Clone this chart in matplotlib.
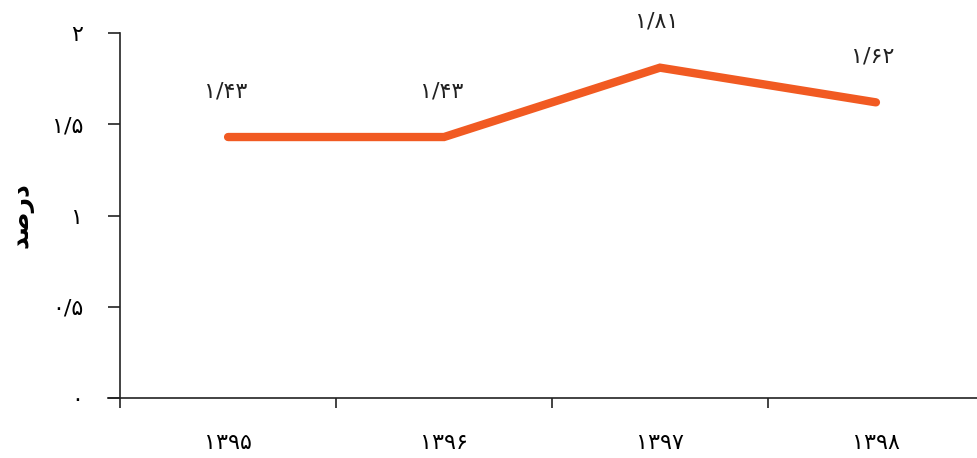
import matplotlib.pyplot as plt

fa = str.maketrans("0123456789.", "۰۱۲۳۴۵۶۷۸۹/")

years = ["1395", "1396", "1397", "1398"]
values = [1.43, 1.43, 1.81, 1.62]
yticks = [0, 0.5, 1, 1.5, 2]

color = "#f15a22"

fig = plt.figure(figsize=(9.77, 4.58), dpi=100)
ax = fig.add_axes([108 / 977, 60 / 458, 869 / 977, 365 / 458])

x = list(range(len(years)))
ax.plot(x, values, color=color, lw=6, solid_capstyle="round", solid_joinstyle="miter")

for xi, v in zip(x, values):
    ax.annotate(f"{v:.2f}".translate(fa), (xi, v), xytext=(-2, 33), textcoords="offset points",
                ha="center", va="center", fontsize=16, color="#222222",
                family="DejaVu Sans", annotation_clip=False)

ax.set_xlim(-0.556, 3.468)
ax.set_ylim(0, 2)

ax.spines["top"].set_visible(False)
ax.spines["right"].set_visible(False)
ax.spines["left"].set_position(("data", -0.5))
ax.spines["left"].set_bounds(0, 2)
for s in ["left", "bottom"]:
    ax.spines[s].set_linewidth(1.2)
    ax.spines[s].set_color("#222222")

ax.set_yticks(yticks)
ax.set_yticklabels([(f"{t:g}").translate(fa) for t in yticks], fontsize=16)
ax.set_xticks([-0.5, 0.5, 1.5, 2.5], minor=False)
ax.set_xticklabels([])
ax.set_xticks(x, minor=True)
ax.set_xticklabels([y.translate(fa) for y in years], minor=True, fontsize=16)
ax.tick_params(axis="x", which="major", length=7.5, width=1.2, color="#222222")
ax.tick_params(axis="x", which="minor", length=0, pad=25)
ax.tick_params(axis="y", length=8.6, width=1.2, color="#222222", pad=18)

# "درصد" in presentation forms, visual order
ax.set_ylabel("\uFEAA\uFEBB\uFEAD\uFEA9", fontsize=18, fontweight="bold", va="center")
ax.yaxis.set_label_coords(-0.099, 0.5)

fig.savefig("out.png", dpi=100)
